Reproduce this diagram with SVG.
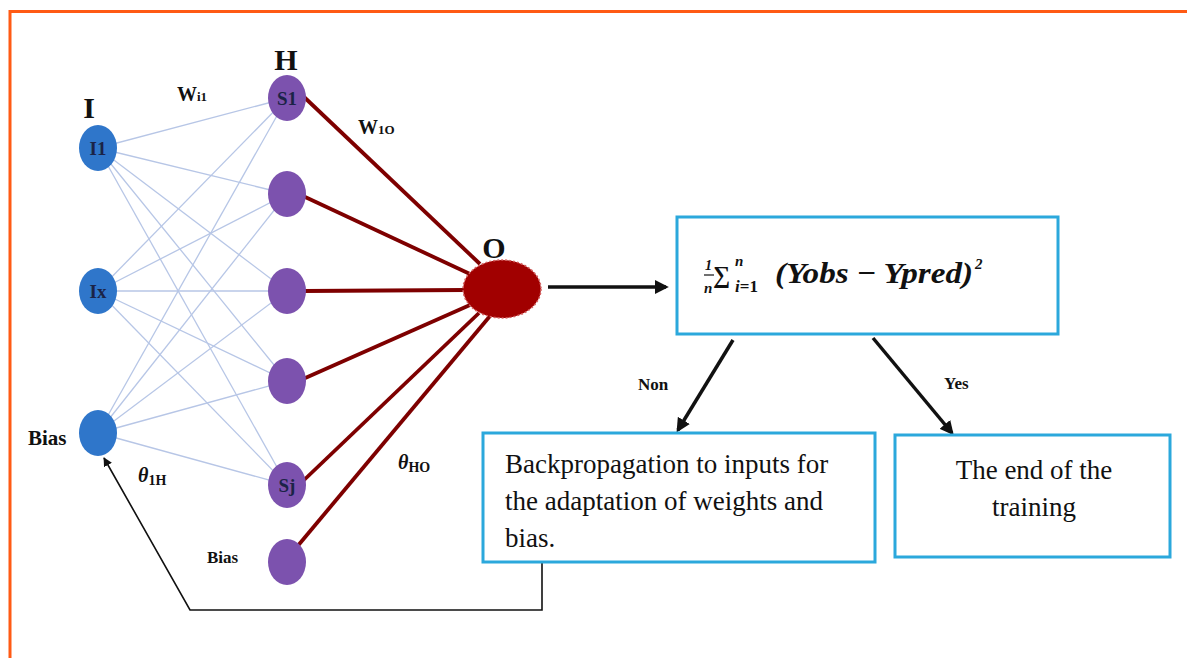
<svg xmlns="http://www.w3.org/2000/svg" width="1187" height="658" viewBox="0 0 1187 658">
<style>
.frame{fill:none;stroke:#FF5A14;stroke-width:3}
.w{stroke:#B7C6E6;stroke-width:1.3;fill:none}
.r{stroke:#7E0000;stroke-width:3.8;fill:none}
.inp{fill:#2F76CA}
.hid{fill:#7C52AE}
.box{fill:#fff;stroke:#2BA8DC;stroke-width:3}
.bl{font-family:"Liberation Serif",serif;font-weight:bold;fill:#111}
.nl{font-family:"Liberation Serif",serif;font-weight:bold;fill:#1B2347;font-size:19px;text-anchor:middle}
.tx{font-family:"Liberation Serif",serif;fill:#111;font-size:27px}
.fm{font-family:"Liberation Serif",serif;font-weight:bold;font-style:italic;fill:#111}
.ar{stroke:#111;stroke-width:3.5;fill:none}
</style>
<defs>
<marker id="ah" viewBox="0 0 10 10" refX="8" refY="5" markerWidth="4" markerHeight="4" orient="auto"><path d="M0,0 L10,5 L0,10 z" fill="#111"/></marker>
<marker id="ahs" viewBox="0 0 10 10" refX="9" refY="5" markerWidth="9" markerHeight="9" orient="auto" markerUnits="userSpaceOnUse"><path d="M0,0 L10,5 L0,10 z" fill="#111"/></marker>
</defs>
<rect x="0" y="0" width="1187" height="658" fill="#fff"/>
<path class="frame" d="M10,658 V11.5 H1187"/>

<g id="connectors">
<g id="input-weights">
<line class="w" x1="98" y1="148" x2="287" y2="98"/>
<line class="w" x1="98" y1="148" x2="287" y2="194"/>
<line class="w" x1="98" y1="148" x2="287" y2="291"/>
<line class="w" x1="98" y1="148" x2="287" y2="381"/>
<line class="w" x1="98" y1="148" x2="287" y2="485"/>
<line class="w" x1="98" y1="291" x2="287" y2="98"/>
<line class="w" x1="98" y1="291" x2="287" y2="194"/>
<line class="w" x1="98" y1="291" x2="287" y2="291"/>
<line class="w" x1="98" y1="291" x2="287" y2="381"/>
<line class="w" x1="98" y1="291" x2="287" y2="485"/>
<line class="w" x1="98" y1="433" x2="287" y2="98"/>
<line class="w" x1="98" y1="433" x2="287" y2="194"/>
<line class="w" x1="98" y1="433" x2="287" y2="291"/>
<line class="w" x1="98" y1="433" x2="287" y2="381"/>
<line class="w" x1="98" y1="433" x2="287" y2="485"/>
</g>
<g id="output-weights">
<line class="r" x1="303" y1="96" x2="480" y2="264"/>
<line class="r" x1="303" y1="196" x2="470" y2="274"/>
<line class="r" x1="304" y1="291" x2="465" y2="290"/>
<line class="r" x1="303" y1="379" x2="470" y2="305"/>
<line class="r" x1="303" y1="481" x2="479" y2="313"/>
<line class="r" x1="296" y1="548" x2="490" y2="316"/>
</g>
<line class="ar" x1="548" y1="287" x2="666" y2="287" marker-end="url(#ah)"/>
<line class="ar" x1="733" y1="340" x2="678" y2="430" marker-end="url(#ah)"/>
<line class="ar" x1="873" y1="338" x2="952" y2="433" marker-end="url(#ah)"/>
<path d="M542,562 V610 H190 L104,458" stroke="#111" stroke-width="1.6" fill="none" marker-end="url(#ahs)"/>
</g>

<g id="layer-labels">
<text class="bl" x="89" y="118" font-size="30" text-anchor="middle">I</text>
<text class="bl" x="286" y="70" font-size="30" text-anchor="middle">H</text>
<text class="bl" x="494" y="258" font-size="30" text-anchor="middle">O</text>
<text class="bl" x="177" y="101" font-size="20">W<tspan font-size="13">i1</tspan></text>
<text class="bl" x="358" y="134" font-size="20">W<tspan font-size="13">1O</tspan></text>
<text class="bl" x="138" y="482" font-size="20"><tspan font-style="italic">θ</tspan><tspan font-size="14" dy="3">1H</tspan></text>
<text class="bl" x="398" y="469" font-size="20"><tspan font-style="italic">θ</tspan><tspan font-size="14" dy="3">HO</tspan></text>
</g>

<g id="node-I1"><ellipse class="inp" cx="98" cy="148" rx="19" ry="23"/><text class="nl" x="98" y="155">I1</text></g>
<g id="node-Ix"><ellipse class="inp" cx="98" cy="291" rx="19" ry="23"/><text class="nl" x="98" y="298">Ix</text></g>
<g id="node-input-bias"><ellipse class="inp" cx="98" cy="433" rx="19" ry="23"/><text class="bl" x="28" y="445" font-size="21">Bias</text></g>

<g id="node-S1"><ellipse class="hid" cx="287" cy="98" rx="19" ry="23"/><text class="nl" x="287" y="105">S1</text></g>
<g id="node-H2"><ellipse class="hid" cx="287" cy="194" rx="19" ry="23"/></g>
<g id="node-H3"><ellipse class="hid" cx="287" cy="291" rx="19" ry="23"/></g>
<g id="node-H4"><ellipse class="hid" cx="287" cy="381" rx="19" ry="23"/></g>
<g id="node-Sj"><ellipse class="hid" cx="287" cy="485" rx="19" ry="23"/><text class="nl" x="287" y="492">Sj</text></g>
<g id="node-hidden-bias"><ellipse class="hid" cx="287" cy="562" rx="19" ry="23"/><text class="bl" x="207" y="563" font-size="17">Bias</text></g>

<g id="node-O"><ellipse cx="502" cy="289" rx="39" ry="29" fill="#A10000" stroke="#D46060" stroke-width="1.5" stroke-dasharray="2 2"/></g>

<g id="node-mse">
<rect class="box" x="677" y="217" width="381" height="117"/>
<text class="fm" x="705" y="270" font-size="14" font-style="normal">1</text>
<line x1="704" y1="275" x2="714" y2="275" stroke="#111" stroke-width="1.2"/>
<text class="fm" x="704" y="293" font-size="15">n</text>
<text class="fm" x="713" y="283" font-size="24" font-style="normal">∑</text>
<text class="fm" x="735" y="266" font-size="15">n</text>
<text class="fm" x="735" y="292" font-size="17">i<tspan font-style="normal">=1</tspan></text>
<text class="fm" x="775" y="283" font-size="30" textLength="198" lengthAdjust="spacingAndGlyphs">(Yobs <tspan font-style="normal">−</tspan> Ypred)</text>
<text class="fm" x="975" y="269" font-size="15" font-style="normal">2</text>
</g>

<g id="label-non"><text class="bl" x="638" y="390" font-size="17">Non</text></g>
<g id="label-yes"><text class="bl" x="944" y="389" font-size="17">Yes</text></g>

<g id="node-backprop">
<rect class="box" x="483" y="433" width="392" height="129"/>
<text class="tx" x="505" y="473">Backpropagation to inputs for</text>
<text class="tx" x="505" y="510">the adaptation of weights and</text>
<text class="tx" x="505" y="547">bias.</text>
</g>

<g id="node-end">
<rect class="box" x="895" y="435" width="275" height="122"/>
<text class="tx" x="1034" y="479" text-anchor="middle">The end of the</text>
<text class="tx" x="1034" y="516" text-anchor="middle">training</text>
</g>
</svg>
